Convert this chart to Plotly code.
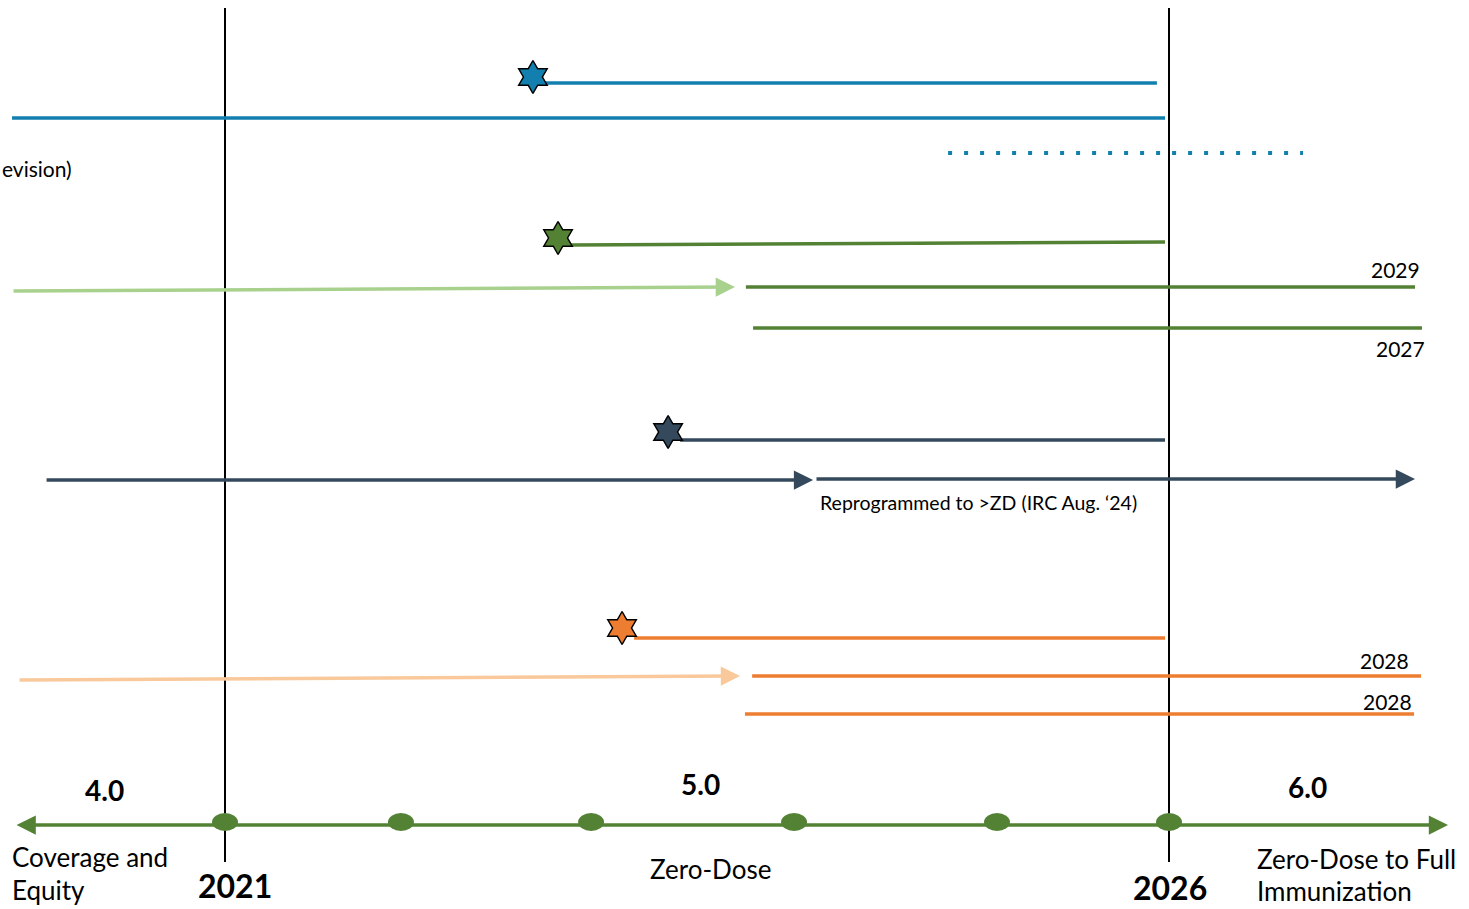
import plotly.graph_objects as go

# ---------------- data ----------------
# x in years, y in row positions (top = 0, bottom = 909)
ref_years = [2021, 2026]
ref_line_top = 8
ref_line_bottom = 862

# plain segments: start year, end year, row start, row end, color key, dash
seg_start = [2022.695, 2019.872, 2024.830, 2022.827, 2023.759, 2023.797, 2023.410, 2023.167, 2023.792, 2023.754]
seg_end   = [2025.936, 2025.979, 2026.710, 2025.979, 2027.303, 2027.340, 2025.979, 2025.979, 2027.335, 2027.298]
seg_row0  = [83, 118, 153, 245, 287, 328, 440, 638, 676, 714]
seg_row1  = [83, 118, 153, 242, 287, 328, 440, 638, 676, 714]
seg_color = ["blue", "blue", "blue", "green", "green", "green", "slate", "orange", "orange", "orange"]
seg_dash  = ["solid", "solid", "dots", "solid", "solid", "solid", "solid", "solid", "solid", "solid"]

# arrows: tail year, head year, tail row, head row, color key
arr_start = [2019.872, 2020.047, 2024.125, 2019.904]
arr_end   = [2023.701, 2024.115, 2027.303, 2023.728]
arr_row0  = [291, 480, 479, 680]
arr_row1  = [287, 480, 479, 676]
arr_color = ["lightgreen", "slate", "slate", "lightorange"]

# stars (milestones)
star_year = [2022.631, 2022.764, 2023.347, 2023.103]
star_row  = [77, 238, 432, 628]
star_color = ["blue", "green", "slate", "orange"]

# bottom timeline
axis_start, axis_end, axis_row = 2019.888, 2027.478, 825
dot_years = [2021.0, 2021.932, 2022.939, 2024.014, 2025.089, 2026.0]
dot_row = 822

phase_labels = ["4.0", "5.0", "6.0"]
phase_x = [2020.364, 2023.516, 2026.736]
phase_row = [790, 784, 787]

year_labels = ["2021", "2026"]
year_label_x = [2021.053, 2026.005]
year_label_row = [885, 887]

end_labels = ["2029", "2027", "2028", "2028"]
end_label_x = [2027.340, 2027.367, 2027.282, 2027.298]
end_label_row = [269, 348, 660, 701]

palette = {
    "blue": "#127FAF",
    "green": "#548235",
    "lightgreen": "#A9D18E",
    "slate": "#34495C",
    "orange": "#ED7D31",
    "lightorange": "#F9C99B",
}

X0 = 2021 - 225 / 188.8
X1 = 2026 + 300 / 188.8

fig = go.Figure()

# vertical reference lines
for yr in ref_years:
    fig.add_trace(go.Scatter(x=[yr, yr], y=[ref_line_top, ref_line_bottom], mode="lines",
                             line=dict(color="black", width=2), hoverinfo="skip", showlegend=False))

# segments
for s, e, r0, r1, c, d in zip(seg_start, seg_end, seg_row0, seg_row1, seg_color, seg_dash):
    dash = "4px,12px" if d == "dots" else "solid"
    width = 4 if d == "dots" else 3.5
    fig.add_trace(go.Scatter(x=[s, e], y=[r0, r1], mode="lines",
                             line=dict(color=palette[c], width=width, dash=dash),
                             hoverinfo="skip", showlegend=False))

annotations = []
# arrows
for s, e, r0, r1, c in zip(arr_start, arr_end, arr_row0, arr_row1, arr_color):
    annotations.append(dict(x=e, y=r1, ax=s, ay=r0, xref="x", yref="y", axref="x", ayref="y",
                            text="", showarrow=True, arrowhead=2, arrowsize=1.1, arrowwidth=3.5,
                            arrowcolor=palette[c], standoff=0))

# bottom timeline arrow (both ends)
annotations.append(dict(x=axis_end, y=axis_row, ax=axis_start, ay=axis_row, xref="x", yref="y",
                        axref="x", ayref="y", text="", showarrow=True, arrowhead=2,
                        startarrowhead=2, arrowside="end+start", arrowsize=1.1, startarrowsize=1.1,
                        arrowwidth=3.5, arrowcolor=palette["green"], standoff=0, startstandoff=0))

# stars
for xv, yv, c in zip(star_year, star_row, star_color):
    fig.add_trace(go.Scatter(x=[xv], y=[yv], mode="markers",
                             marker=dict(symbol="hexagram", size=25, color=palette[c],
                                         line=dict(color="black", width=1.5)),
                             hoverinfo="skip", showlegend=False))

# dots as ellipses
shapes = []
for xv in dot_years:
    shapes.append(dict(type="circle", xref="x", yref="y",
                       x0=xv - 13 / 188.8, x1=xv + 13 / 188.8, y0=dot_row - 9, y1=dot_row + 9,
                       fillcolor=palette["green"], line=dict(width=0)))

FONT = "Lato"

def txt(text, x, y, size, bold=False, xanchor="center"):
    return dict(x=x, y=y, xref="x", yref="y", text=f"<b>{text}</b>" if bold else text,
                showarrow=False, xanchor=xanchor, yanchor="middle",
                font=dict(family=FONT, size=size, color="black"))

for t, xv, yv in zip(phase_labels, phase_x, phase_row):
    annotations.append(txt(t, xv, yv, 28, bold=True))
for t, xv, yv in zip(year_labels, year_label_x, year_label_row):
    annotations.append(txt(t, xv, yv, 32, bold=True))
for t, xv, yv in zip(end_labels, end_label_x, end_label_row):
    annotations.append(txt(t, xv, yv, 21, xanchor="right"))

annotations.append(txt("evision)", X0, 168, 21, xanchor="left"))
annotations.append(txt("Reprogrammed to &gt;ZD (IRC Aug. \u201824)", 2024.141, 502, 19.5, xanchor="left"))
annotations.append(txt("Coverage and", 2019.861, 857, 26, xanchor="left"))
annotations.append(txt("Equity", 2019.861, 890, 26, xanchor="left"))
annotations.append(txt("Zero-Dose", 2023.574, 869, 26))
annotations.append(txt("Zero-Dose to Full", 2026.456, 859, 26, xanchor="left"))
annotations.append(txt("Immunization", 2026.456, 891, 26, xanchor="left"))

fig.update_layout(
    width=1469, height=909,
    margin=dict(l=0, r=0, t=0, b=0),
    paper_bgcolor="white", plot_bgcolor="white",
    xaxis=dict(range=[X0, X1], visible=False, fixedrange=True),
    yaxis=dict(range=[909, 0], visible=False, fixedrange=True),
    annotations=annotations,
    shapes=shapes,
    showlegend=False,
)

fig.write_html("out.html")
